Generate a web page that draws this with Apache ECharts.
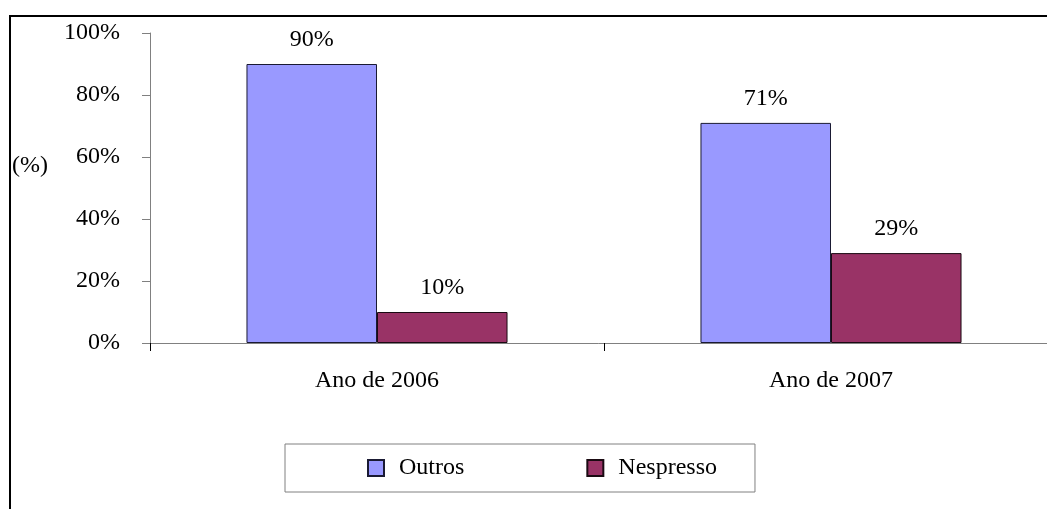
<!DOCTYPE html>
<html>
<head>
<meta charset="utf-8">
<script src="https://cdn.jsdelivr.net/npm/echarts@6/dist/echarts.min.js"></script>
<style>
  html, body { margin: 0; padding: 0; background: #fff; }
  #main { width: 1047px; height: 509px; }
</style>
</head>
<body>
<div id="main"></div>
<script>
var categories = ['Ano de 2006', 'Ano de 2007'];
var outros = [90, 71];
var nespresso = [10, 29];
var yTicks = [0, 20, 40, 60, 80, 100];

var serif = '"Liberation Serif", "Times New Roman", serif';
var chart = echarts.init(document.getElementById('main'));

var option = {
  backgroundColor: '#fff',
  animation: false,
  textStyle: { fontFamily: serif },
  grid: { left: 150, width: 908, top: 33, height: 310, containLabel: false, outerBoundsMode: 'none' },
  graphic: [
    {
      type: 'rect',
      shape: { x: 10, y: 16, width: 1200, height: 700 },
      style: { fill: 'none', stroke: '#000', lineWidth: 2 },
      silent: true
    },
    {
      type: 'text',
      left: 12,
      top: 154,
      style: { text: '(%)', font: '24px ' + serif, fill: '#000' }
    }
  ],
  legend: {
    left: 285,
    top: 444,
    itemWidth: 16,
    itemHeight: 16,
    itemGap: 122,
    padding: [12, 38, 12, 82],
    borderColor: '#808080',
    borderWidth: 1,
    textStyle: { fontFamily: serif, fontSize: 24, color: '#000', padding: [0, 0, 0, 10] },
    data: [
      { name: 'Outros', icon: 'rect' },
      { name: 'Nespresso', icon: 'rect' }
    ]
  },
  xAxis: {
    type: 'category',
    data: categories,
    axisLine: { lineStyle: { color: '#808080', width: 1 } },
    axisTick: { show: true, length: 8, lineStyle: { color: '#000' } },
    axisLabel: { color: '#000', fontFamily: serif, fontSize: 24, margin: 26 }
  },
  yAxis: {
    type: 'value',
    min: yTicks[0],
    max: yTicks[yTicks.length - 1],
    interval: yTicks[1] - yTicks[0],
    splitLine: { show: false },
    axisLine: { show: true, lineStyle: { color: '#808080', width: 1 } },
    axisTick: { show: true, length: 8, lineStyle: { color: '#808080' } },
    axisLabel: { color: '#000', fontFamily: serif, fontSize: 24, margin: 30, formatter: '{value}%' }
  },
  series: [
    {
      name: 'Outros',
      type: 'bar',
      data: outros,
      barGap: '0%',
      barCategoryGap: '42.5%',
      itemStyle: { color: '#9999FF', borderColor: '#1a1a33', borderWidth: 1 },
      label: { show: true, position: 'top', distance: 12, formatter: '{c}%', color: '#000', fontFamily: serif, fontSize: 24 }
    },
    {
      name: 'Nespresso',
      type: 'bar',
      data: nespresso,
      itemStyle: { color: '#993366', borderColor: '#1a0a12', borderWidth: 1 },
      label: { show: true, position: 'top', distance: 12, formatter: '{c}%', color: '#000', fontFamily: serif, fontSize: 24 }
    }
  ]
};
chart.setOption(option);
</script>
</body>
</html>
